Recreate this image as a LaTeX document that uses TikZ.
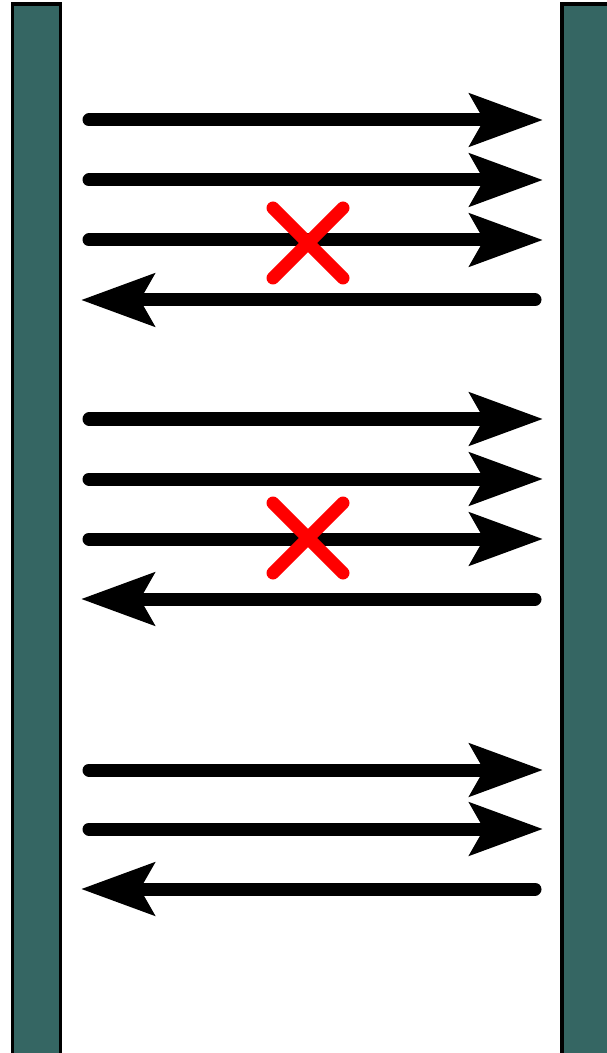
\documentclass[tikz,border=0pt]{standalone}
\usetikzlibrary{calc, arrows.meta}

\definecolor{wallteal}{RGB}{53,102,99}

\begin{document}
\begin{tikzpicture}[x=0.02cm, y=-0.02cm,
  wall/.style={fill=wallteal, draw=black, line width=3.5*0.02cm},
  ray/.style={line width=13*0.02cm, line cap=round,
    -{Stealth[length=73*0.02cm, width=52*0.02cm, inset=14*0.02cm]}},
  cross/.style={red, line width=13*0.02cm, line cap=round}]
  \useasboundingbox (0,0) rectangle (606,1053);
  % walls
  \draw[wall] (12.5,4) rectangle (60.5,1070);
  \draw[wall] (562,4) rectangle (620,1070);
  % rays going right
  \foreach \y [count=\i] in {120,180,240,419,479,539,770,829} {
    \coordinate (rs\i) at (89,\y);
    \coordinate (re\i) at (543,\y);
    \draw[ray] (rs\i) -- (re\i);
  }
  % rays going back
  \foreach \y [count=\i] in {300,599,889} {
    \coordinate (ls\i) at (535,\y);
    \coordinate (le\i) at (81,\y);
    \draw[ray] (ls\i) -- (le\i);
  }
  % crosses
  \foreach \y [count=\i] in {243,538} {
    \coordinate (x\i) at (308,\y);
    \draw[cross] ($(x\i)+(-35,-35)$) -- ($(x\i)+(35,35)$);
    \draw[cross] ($(x\i)+(-35,35)$) -- ($(x\i)+(35,-35)$);
  }
\end{tikzpicture}
\end{document}
